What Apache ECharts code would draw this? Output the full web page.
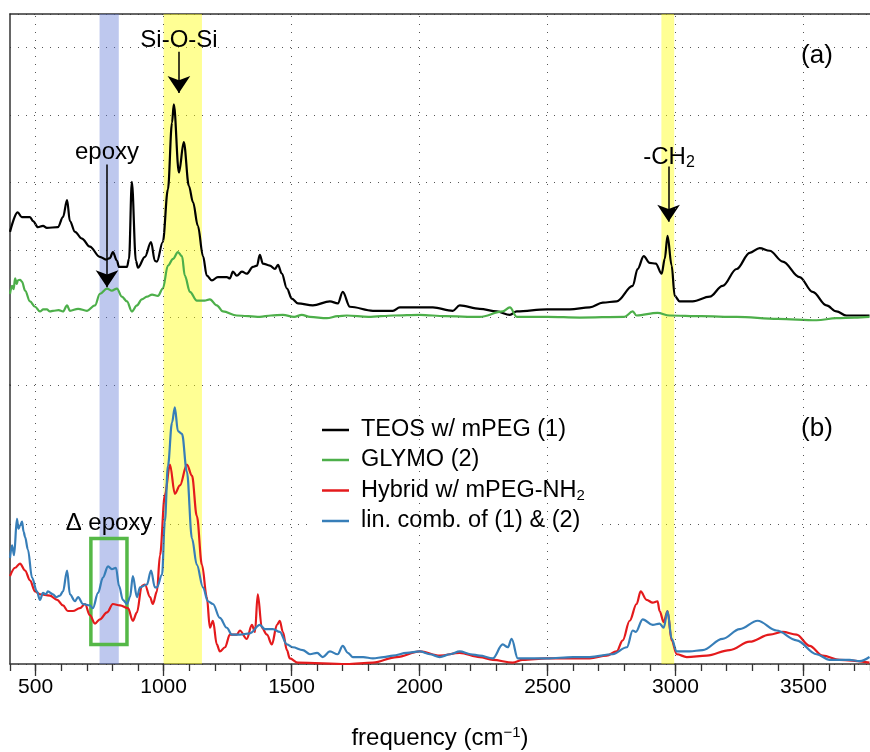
<!DOCTYPE html>
<html>
<head>
<meta charset="utf-8">
<script src="https://cdn.jsdelivr.net/npm/echarts@6/dist/echarts.min.js"></script>
<style>html,body{margin:0;padding:0;background:#fff}#c{width:870px;height:752px}</style>
</head>
<body>
<div id="c"></div>
<script>
// ---- data (frequency in cm^-1, intensity in arbitrary units) ----
const majorTicks = [500, 1000, 1500, 2000, 2500, 3000, 3500];
const epoxyBand = [750, 825];
const siBand = [1000, 1150];
const chBand = [2945, 2995];
const deltaBox = [[716, 0.90], [857, 0.14]];

// panel (a)
const teos = [[400,1.27],[430,1.56],[446,1.49],[478,1.49],[490,1.43],[509,1.34],[529,1.36],[544,1.33],[587,1.34],[607,1.49],[623,1.74],[634,1.43],[654,1.27],[681,1.17],[712,1.05],[751,0.90],[775,0.86],[790,0.88],[802,0.97],[818,0.84],[826,0.75],[857,0.75],[865,0.87],[876,2.01],[892,0.84],[900,0.74],[927,0.90],[951,1.12],[966,0.84],[974,0.83],[997,1.12],[1017,1.90],[1033,2.89],[1040,3.16],[1060,2.15],[1079,2.60],[1099,1.95],[1115,1.71],[1134,1.36],[1154,0.91],[1169,0.62],[1189,0.55],[1212,0.60],[1247,0.60],[1259,0.58],[1271,0.68],[1286,0.62],[1306,0.68],[1325,0.65],[1349,0.75],[1365,0.77],[1376,0.93],[1388,0.80],[1415,0.77],[1435,0.72],[1447,0.78],[1462,0.65],[1482,0.43],[1501,0.28],[1525,0.21],[1583,0.18],[1650,0.24],[1681,0.21],[1700,0.38],[1728,0.16],[1818,0.10],[1896,0.10],[1923,0.15],[2001,0.15],[2052,0.15],[2130,0.10],[2157,0.18],[2235,0.13],[2302,0.09],[2353,0.04],[2380,0.09],[2497,0.12],[2587,0.12],[2665,0.15],[2716,0.22],[2770,0.24],[2833,0.47],[2852,0.72],[2876,0.91],[2899,0.81],[2923,0.80],[2946,0.65],[2958,0.87],[2969,1.21],[2985,0.77],[2997,0.32],[3016,0.24],[3067,0.24],[3134,0.31],[3184,0.47],[3239,0.72],[3290,0.96],[3329,1.03],[3368,0.99],[3419,0.83],[3485,0.60],[3536,0.38],[3590,0.18],[3629,0.09],[3668,0.03],[3719,0.03],[3758,0.03]];
const glymo = [[400,0.35],[408,0.47],[414,0.42],[420,0.58],[426,0.50],[431,0.55],[440,0.56],[447,0.53],[459,0.40],[478,0.24],[498,0.16],[517,0.09],[530,0.12],[544,0.12],[556,0.09],[568,0.10],[590,0.11],[607,0.09],[623,0.18],[634,0.10],[666,0.13],[701,0.10],[732,0.18],[751,0.35],[779,0.43],[798,0.40],[818,0.43],[837,0.31],[857,0.24],[876,0.09],[896,0.18],[915,0.27],[935,0.31],[955,0.34],[978,0.32],[997,0.43],[1017,0.77],[1037,0.87],[1056,0.97],[1072,0.91],[1083,0.62],[1103,0.38],[1130,0.25],[1160,0.25],[1181,0.27],[1208,0.18],[1232,0.09],[1286,0.03],[1376,0.01],[1420,0.03],[1466,0.04],[1510,0.01],[1540,0.04],[1572,0.01],[1638,-0.01],[1680,0.02],[1716,0.03],[1800,0.01],[1900,0.03],[2001,0.04],[2100,0.02],[2235,0.01],[2325,0.09],[2353,0.15],[2380,0.01],[2500,0.01],[2626,0.0],[2800,0.01],[2833,0.09],[2848,0.03],[2930,0.07],[2977,0.03],[3100,0.02],[3239,0.01],[3400,-0.02],[3551,-0.04],[3629,-0.01],[3700,0.0],[3758,0.01]];

// panel (b)
const hybrid = [[400,0.63],[420,0.69],[439,0.72],[459,0.67],[478,0.60],[498,0.52],[517,0.50],[556,0.49],[584,0.46],[607,0.42],[626,0.38],[646,0.38],[673,0.40],[693,0.43],[712,0.35],[732,0.29],[751,0.32],[779,0.37],[802,0.43],[830,0.42],[861,0.40],[880,0.31],[896,0.37],[915,0.56],[927,0.57],[947,0.48],[958,0.43],[974,0.52],[986,0.78],[1005,1.21],[1025,1.43],[1044,1.22],[1064,1.28],[1091,1.43],[1111,1.35],[1130,1.06],[1150,0.71],[1169,0.48],[1181,0.26],[1193,0.31],[1208,0.14],[1220,0.09],[1240,0.12],[1259,0.21],[1286,0.21],[1298,0.24],[1325,0.18],[1345,0.28],[1357,0.23],[1368,0.50],[1384,0.26],[1404,0.21],[1423,0.14],[1443,0.28],[1454,0.31],[1466,0.23],[1482,0.10],[1493,0.04],[1525,0.01],[1716,0],[1818,0.01],[1911,0.05],[2001,0.09],[2079,0.06],[2157,0.08],[2235,0.05],[2286,0.03],[2364,0.01],[2403,0.03],[2497,0.04],[2665,0.04],[2731,0.06],[2770,0.09],[2794,0.17],[2821,0.31],[2848,0.43],[2864,0.52],[2887,0.46],[2911,0.44],[2930,0.45],[2938,0.38],[2954,0.30],[2969,0.38],[2985,0.17],[3005,0.07],[3044,0.05],[3122,0.06],[3212,0.10],[3290,0.16],[3368,0.21],[3419,0.23],[3473,0.21],[3524,0.13],[3575,0.06],[3641,0.03],[3758,0.01]];
const linComb = [[400,0.76],[408,0.85],[416,0.78],[427,1.04],[433,0.97],[439,0.99],[447,1.02],[453,0.95],[459,0.91],[470,0.82],[486,0.62],[505,0.52],[517,0.46],[529,0.51],[540,0.50],[548,0.52],[568,0.50],[580,0.48],[595,0.49],[607,0.52],[623,0.67],[634,0.50],[654,0.45],[666,0.48],[685,0.43],[712,0.42],[724,0.40],[744,0.51],[763,0.62],[783,0.70],[798,0.68],[814,0.69],[826,0.56],[841,0.46],[857,0.43],[869,0.48],[880,0.63],[896,0.48],[908,0.55],[935,0.57],[951,0.67],[966,0.55],[974,0.55],[994,0.64],[1005,1.02],[1017,1.42],[1033,1.73],[1044,1.84],[1056,1.67],[1072,1.65],[1091,1.38],[1111,0.90],[1130,0.71],[1154,0.55],[1173,0.45],[1193,0.43],[1220,0.33],[1247,0.26],[1267,0.21],[1298,0.21],[1337,0.22],[1376,0.28],[1396,0.25],[1427,0.25],[1454,0.23],[1482,0.14],[1505,0.12],[1544,0.10],[1572,0.07],[1600,0.08],[1622,0.05],[1650,0.09],[1680,0.07],[1700,0.13],[1720,0.08],[1739,0.05],[1780,0.05],[1818,0.04],[1860,0.05],[1896,0.06],[1950,0.08],[2001,0.09],[2040,0.07],[2079,0.05],[2120,0.07],[2157,0.09],[2200,0.07],[2235,0.06],[2286,0.04],[2325,0.14],[2345,0.12],[2360,0.18],[2384,0.04],[2497,0.04],[2600,0.05],[2665,0.05],[2755,0.07],[2810,0.12],[2833,0.24],[2845,0.23],[2872,0.32],[2911,0.28],[2938,0.29],[2954,0.26],[2969,0.38],[2985,0.18],[3005,0.09],[3055,0.09],[3106,0.10],[3184,0.18],[3251,0.25],[3321,0.31],[3395,0.24],[3473,0.17],[3551,0.07],[3602,0.03],[3680,0.03],[3720,0.02],[3758,0.05]];

// annotation arrows: [frequency, start value, tip value] in panel (a)
const arrows = [[1060, 3.94, 3.33], [779, 2.27, 0.45], [2973, 2.24, 1.42]];

const names = ['TEOS w/ mPEG (1)', 'GLYMO (2)', 'Hybrid w/ mPEG-NH2', 'lin. comb. of (1) & (2)'];

// ---- chart ----
const FONT = '"Liberation Sans", Arial, Helvetica, sans-serif';
const AX = '#333';
const dotted = { type: [1, 7], color: '#555', width: 1 };
const bandColors = ['rgba(93,117,212,0.4)', 'rgba(255,255,0,0.42)', 'rgba(255,255,0,0.42)'];
const bandAreas = [epoxyBand, siBand, chBand].map((b, i) => [
  { xAxis: b[0], itemStyle: { color: bandColors[i] } }, { xAxis: b[1] }
]);
const vGrid = { silent: true, symbol: 'none', label: { show: false }, lineStyle: dotted,
  data: majorTicks.map(v => ({ xAxis: v })) };

const chart = echarts.init(document.getElementById('c'), null, { renderer: 'canvas' });
const xBase = { type: 'value', min: 400, max: 3760, interval: 100, splitLine: { show: false } };
const SM = 0.35;

function txt(x, y, text, size, extra) {
  return { type: 'text', x: x, y: y, z: 100, zlevel: 0,
    style: Object.assign({ text: text, fontSize: size, fontFamily: FONT, fill: '#000', align: 'center', verticalAlign: 'middle' }, extra || {}) };
}

chart.setOption({
  animation: false,
  textStyle: { fontFamily: FONT },
  grid: [
    { left: 10, right: 0, top: 14, height: 371 },
    { left: 10, right: 0, top: 385, height: 282 }
  ],
  xAxis: [
    Object.assign({}, xBase, {
      gridIndex: 1, position: 'bottom',
      axisLine: { show: true, onZero: false, lineStyle: { color: AX, width: 1.5 } },
      axisTick: { show: true, customValues: majorTicks, length: 12, lineStyle: { color: AX, width: 1.3 } },
      axisLabel: { show: true, customValues: majorTicks, formatter: v => String(v), fontSize: 21, color: '#000', margin: 13, fontFamily: FONT },
      name: 'frequency (cm{sup|\u22121})', nameLocation: 'middle', nameGap: 62,
      nameTextStyle: { fontSize: 24, color: '#000', fontFamily: FONT,
        rich: { sup: { fontSize: 15, fontFamily: FONT, color: '#000', lineHeight: 12, padding: [0, 0, 11, 0] } } }
    }),
    Object.assign({}, xBase, {
      gridIndex: 1, position: 'bottom',
      axisLine: { show: false, onZero: false },
      axisTick: { show: true, length: 7, lineStyle: { color: AX, width: 1.3 } },
      axisLabel: { show: false }
    }),
    Object.assign({}, xBase, {
      gridIndex: 0, position: 'top',
      axisLine: { show: true, onZero: false, lineStyle: { color: AX, width: 1.5 } },
      axisTick: { show: false }, axisLabel: { show: false }
    })
  ],
  yAxis: [
    { type: 'value', gridIndex: 0, min: -1, max: 4.5, interval: 1,
      axisLine: { show: true, onZero: false, lineStyle: { color: AX, width: 1.5 } },
      axisTick: { show: false }, axisLabel: { show: false },
      splitLine: { show: true, lineStyle: dotted } },
    { type: 'value', gridIndex: 1, min: 0, max: 2, interval: 1,
      axisLine: { show: true, onZero: false, lineStyle: { color: AX, width: 1.5 } },
      axisTick: { show: false }, axisLabel: { show: false },
      splitLine: { show: true, lineStyle: dotted } }
  ],
  legend: {
    orient: 'vertical', left: 310, top: 404,
    padding: [14, 12, 8, 12], backgroundColor: '#fff',
    icon: 'rect', itemWidth: 27, itemHeight: 2.5, itemGap: 6,
    data: names,
    formatter: n => n === names[2] ? 'Hybrid w/ mPEG-NH{sub|2}' : n,
    textStyle: { fontSize: 23.5, color: '#000', fontFamily: FONT, lineHeight: 24, padding: [0, 0, 0, 7],
      rich: { sub: { fontSize: 15, fontFamily: FONT, color: '#000', lineHeight: 12, padding: [10, 0, 0, 0] } } }
  },
  series: [
    { name: names[0], type: 'line', xAxisIndex: 2, yAxisIndex: 0, data: teos,
      symbol: 'none', smooth: SM, smoothMonotone: 'x',
      lineStyle: { color: '#000', width: 2.2 }, itemStyle: { color: '#000' },
      markArea: { silent: true, data: bandAreas },
      markLine: { silent: true, symbol: ['none', 'arrow'], symbolSize: 17,
        label: { show: false }, lineStyle: { color: '#000', width: 1.5, type: 'solid' },
        itemStyle: { color: '#000' },
        data: arrows.map(a => [{ coord: [a[0], a[1]] }, { coord: [a[0], a[2]] }]) } },
    { name: names[1], type: 'line', xAxisIndex: 2, yAxisIndex: 0, data: glymo,
      symbol: 'none', smooth: SM, smoothMonotone: 'x',
      lineStyle: { color: '#4daf4a', width: 2.2 }, itemStyle: { color: '#4daf4a' },
      markLine: vGrid },
    { name: names[2], type: 'line', xAxisIndex: 0, yAxisIndex: 1, data: hybrid,
      symbol: 'none', smooth: SM, smoothMonotone: 'x',
      lineStyle: { color: '#e41a1c', width: 2.2 }, itemStyle: { color: '#e41a1c' },
      markArea: { silent: true, data: bandAreas },
      markLine: vGrid },
    { name: names[3], type: 'line', xAxisIndex: 0, yAxisIndex: 1, data: linComb,
      symbol: 'none', smooth: SM, smoothMonotone: 'x',
      lineStyle: { color: '#377eb8', width: 2.2 }, itemStyle: { color: '#377eb8' },
      markArea: { silent: true,
        itemStyle: { color: 'rgba(0,0,0,0)', borderColor: '#55b847', borderWidth: 3.5 },
        data: [[{ coord: deltaBox[0] }, { coord: deltaBox[1] }]] } }
  ],
  graphic: [
    txt(179, 40, 'Si-O-Si', 24),
    txt(107, 152, 'epoxy', 24),
    txt(669, 157, '-CH{sub|2}', 24, { rich: { sub: { fontSize: 16, fontFamily: FONT, fill: '#000', lineHeight: 12, padding: [12, 0, 0, 0] } } }),
    txt(817, 56, '(a)', 26),
    txt(817, 429, '(b)', 26),
    txt(109, 523, '\u0394 epoxy', 24)
  ]
});
</script>
</body>
</html>
